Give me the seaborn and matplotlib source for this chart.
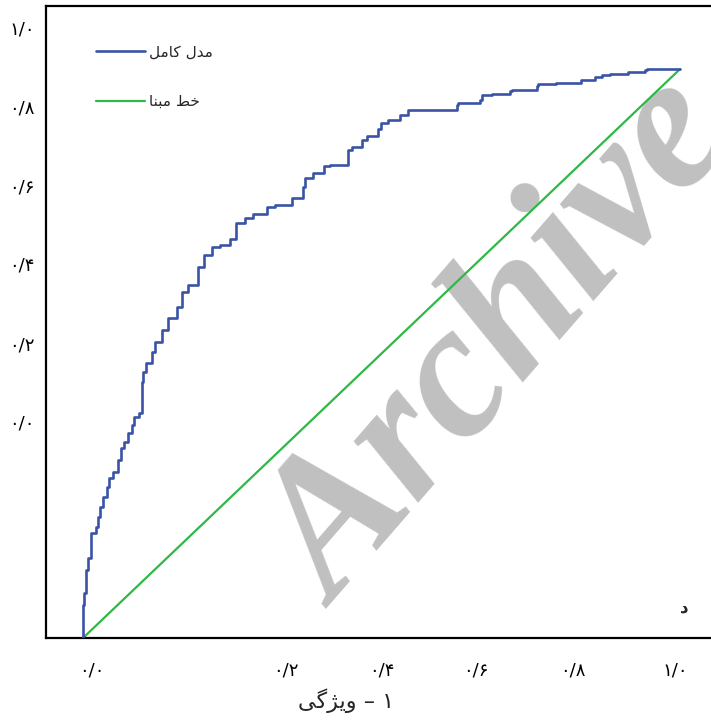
"""
ROC curve (Persian labels) with an 'Archive' watermark.
"""

import numpy as np
import matplotlib
matplotlib.use("Agg")
import matplotlib.pyplot as plt
import seaborn as sns

# ROC points of the full model
fpr = [0.000, 0.001, 0.005, 0.009, 0.013, 0.021, 0.025, 0.028, 0.034, 0.040,
       0.044, 0.051, 0.059, 0.063, 0.068, 0.076, 0.082, 0.085, 0.093, 0.098,
       0.101, 0.106, 0.115, 0.121, 0.132, 0.143, 0.157, 0.165, 0.176, 0.193,
       0.202, 0.216, 0.229, 0.246, 0.257, 0.271, 0.285, 0.308, 0.322, 0.350,
       0.369, 0.372, 0.386, 0.403, 0.414, 0.444, 0.450, 0.467, 0.475, 0.495,
       0.500, 0.511, 0.531, 0.545, 0.564, 0.626, 0.629, 0.665, 0.668, 0.685,
       0.715, 0.719, 0.760, 0.763, 0.793, 0.835, 0.858, 0.869, 0.883, 0.913,
       0.941, 0.944, 1.000]
tpr = [0.000, 0.058, 0.079, 0.120, 0.141, 0.185, 0.195, 0.213, 0.230, 0.248,
       0.265, 0.281, 0.292, 0.313, 0.334, 0.344, 0.360, 0.374, 0.388, 0.395,
       0.450, 0.467, 0.483, 0.503, 0.520, 0.541, 0.562, 0.582, 0.609, 0.620,
       0.653, 0.673, 0.688, 0.691, 0.702, 0.729, 0.738, 0.746, 0.758, 0.761,
       0.773, 0.793, 0.808, 0.817, 0.830, 0.831, 0.858, 0.863, 0.875, 0.882,
       0.894, 0.905, 0.910, 0.920, 0.928, 0.928, 0.937, 0.940, 0.946, 0.954,
       0.957, 0.962, 0.963, 0.970, 0.974, 0.976, 0.981, 0.987, 0.989, 0.992,
       0.995, 0.999, 1.000]
baseline_x = [0.0, 1.0]
baseline_y = [0.0, 1.0]

# tick labels sit where the original put them (not on the matching values)
xtick_pos = [0.015, 0.340, 0.501, 0.658, 0.821, 0.992]
xtick_labels = ["\u06F0/\u06F0", "\u06F0/\u06F2", "\u06F0/\u06F4",
                "\u06F0/\u06F6", "\u06F0/\u06F8", "\u06F1/\u06F0"]
ytick_pos = [1.074, 0.935, 0.796, 0.659, 0.518, 0.380]
ytick_labels = ["\u06F1/\u06F0", "\u06F0/\u06F8", "\u06F0/\u06F6",
                "\u06F0/\u06F4", "\u06F0/\u06F2", "\u06F0/\u06F0"]

# Persian text in presentation forms, visual order (matplotlib does no shaping)
label_model = "\uFEDE\uFEE3\uFE8E\uFB90 \uFEDD\uFEAA\uFEE3"   # مدل کامل
label_base = "\uFE8E\uFEE8\uFE92\uFEE3 \uFEC2\uFEA7"         # خط مبنا
x_title = "\uFBFD\uFB94\uFB8B\uFBFE\uFEED \u2013 \u06F1"     # ۱ - ویژگی
panel_tag = "\uFEA9"                                         # د

sns.set_theme(style="white")
plt.rcParams["font.family"] = ["DejaVu Sans"]

fig = plt.figure(figsize=(7.11, 7.22), dpi=100)
ax = fig.add_axes([46 / 711, 1 - 638 / 722, 1 - 46 / 711, (638 - 6) / 722])

ax.text(0.705, 0.515, "Archive", fontsize=138, family="Liberation Serif",
        weight="bold", style="italic", color="#c0c0c0", rotation=49,
        ha="center", va="center", rotation_mode="anchor", zorder=0)

sns.lineplot(x=fpr, y=tpr, ax=ax, sort=False, estimator=None,
             drawstyle="steps-pre", color="#3a53a6", linewidth=1.9,
             label=label_model, zorder=3)
sns.lineplot(x=baseline_x, y=baseline_y, ax=ax, sort=False, estimator=None,
             color="#2eb846", linewidth=1.6, label=label_base, zorder=2)

ax.set_xlim(-0.062, 1.052)
ax.set_ylim(0, 1.111)
ax.set_xticks(xtick_pos)
ax.set_xticklabels(xtick_labels)
ax.set_yticks(ytick_pos)
ax.set_yticklabels(ytick_labels)
ax.tick_params(axis="both", length=0, labelsize=13, colors="black")
ax.tick_params(axis="x", pad=17)
ax.tick_params(axis="y", pad=8)

ax.set_xlabel(x_title, fontsize=16)
ax.xaxis.set_label_coords(0.451, -0.080)
ax.set_ylabel("")

for side in ["left", "bottom", "top"]:
    ax.spines[side].set_color("black")
    ax.spines[side].set_linewidth(1.6)
ax.spines["right"].set_visible(False)

ax.text(1.008, 0.053, panel_tag, fontsize=12, weight="bold", ha="center",
        va="center")

ax.legend(loc="upper left", bbox_to_anchor=(0.075, 0.939), frameon=False,
          fontsize=11, handlelength=3.2, handletextpad=0.25,
          labelspacing=2.25, borderpad=0, borderaxespad=0)

fig.savefig("out.png", dpi=100)
